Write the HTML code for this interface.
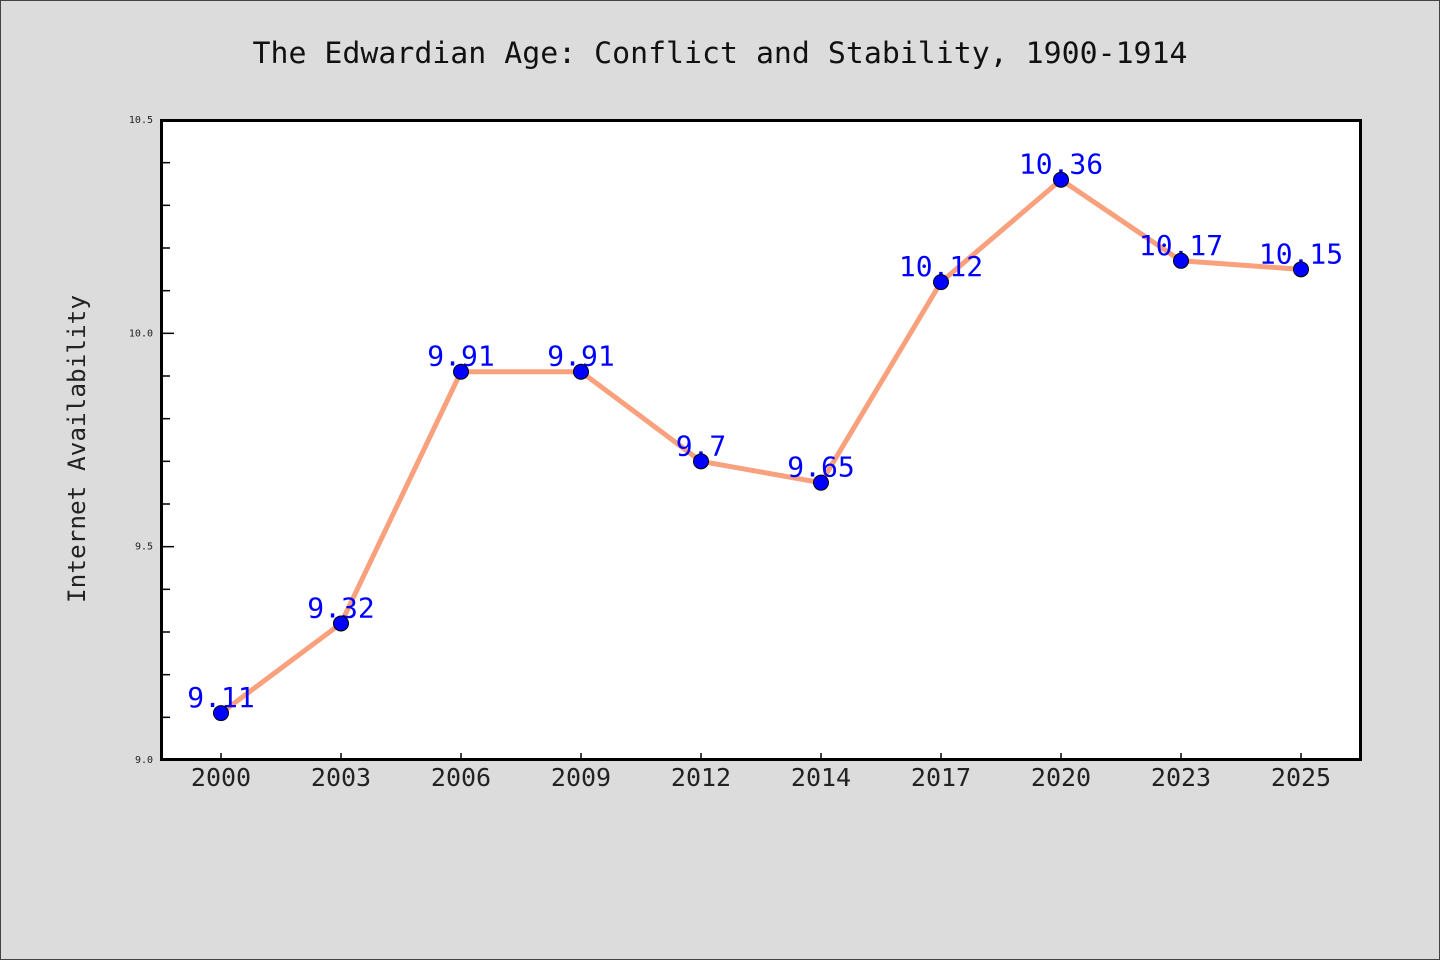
<!DOCTYPE html>
<html><head><meta charset="utf-8"><style>
html,body{margin:0;padding:0;background:#dcdcdc;}
svg{display:block;font-family:"WenQuanYi Zen Hei Mono","WenQuanYi Zen Hei","DejaVu Sans Mono",monospace;}
</style></head><body>
<svg id="chart" width="1440" height="960" xmlns="http://www.w3.org/2000/svg">
<rect x="0.5" y="0.5" width="1439" height="959" fill="#dcdcdc" stroke="#444"/>
<text x="720" y="63" text-anchor="middle" font-size="29" fill="#111" textLength="935" lengthAdjust="spacingAndGlyphs">The Edwardian Age: Conflict and Stability, 1900-1914</text>
<rect x="161.5" y="120.5" width="1199" height="639" fill="#fff"/>
<g id="ticks"></g>
<g id="series"></g>
<rect x="161.5" y="120.5" width="1199" height="639" fill="none" stroke="#000" stroke-width="3"/>
<text transform="translate(85,449) rotate(-90)" text-anchor="middle" font-size="24" fill="#222" textLength="308" lengthAdjust="spacingAndGlyphs">Internet Availability</text>
</svg>
<script>
const categories=["2000","2003","2006","2009","2012","2014","2017","2020","2023","2025"];
const values=[9.11,9.32,9.91,9.91,9.7,9.65,10.12,10.36,10.17,10.15];
const yTickLabels=["9.0","9.5","10.0","10.5"];
const yMin=9.0,yMax=10.5;
const NS="http://www.w3.org/2000/svg";
const L=161,R=1361,T=120,B=760;
const step=(R-L)/categories.length;
const xs=i=>L+step*(i+0.5);
const ys=v=>B-(v-yMin)/(yMax-yMin)*(B-T);
function mk(t,a,p){const e=document.createElementNS(NS,t);for(const k in a)e.setAttribute(k,a[k]);p.appendChild(e);return e;}
const tk=document.getElementById('ticks'),sr=document.getElementById('series');
for(let v=yMin;v<=yMax+1e-9;v+=0.1){
  const y=ys(v);const major=Math.abs(v*2-Math.round(v*2))<1e-6;
  const l=mk('line',{x1:L,x2:L+(major?13:9),y1:y,y2:y,stroke:'#000','stroke-width':1.5},tk);
  
  
}
yTickLabels.forEach(s=>{
  const t=mk('text',{x:L-8,y:ys(parseFloat(s))+3,'text-anchor':'end','font-size':10,fill:'#222'},tk);
  t.textContent=s;
  
  
});
categories.forEach((c,i)=>{
  const x=xs(i);
  const l=mk('line',{x1:x,x2:x,y1:B,y2:B-7,stroke:'#000','stroke-width':1.5},tk);
  
  
  const t=mk('text',{x:x,y:B+26,'text-anchor':'middle','font-size':25,fill:'#222'},tk);
  t.textContent=c;
  
  
});
const pts=values.map((v,i)=>xs(i)+','+ys(v)).join(' ');
const pl=mk('polyline',{points:pts,fill:'none',stroke:'#f9a07c','stroke-width':5,'stroke-linejoin':'round'},sr);


values.forEach((v,i)=>{
  const t=mk('text',{x:xs(i),y:ys(v)-6,'text-anchor':'middle','font-size':28,fill:'#0000ff'},sr);
  t.textContent=String(v);
  
  
});
values.forEach((v,i)=>{
  const c=mk('circle',{cx:xs(i),cy:ys(v),r:7.5,fill:'#0000ff',stroke:'#000','stroke-width':1},sr);
  
  
});
</script>
</body></html>
